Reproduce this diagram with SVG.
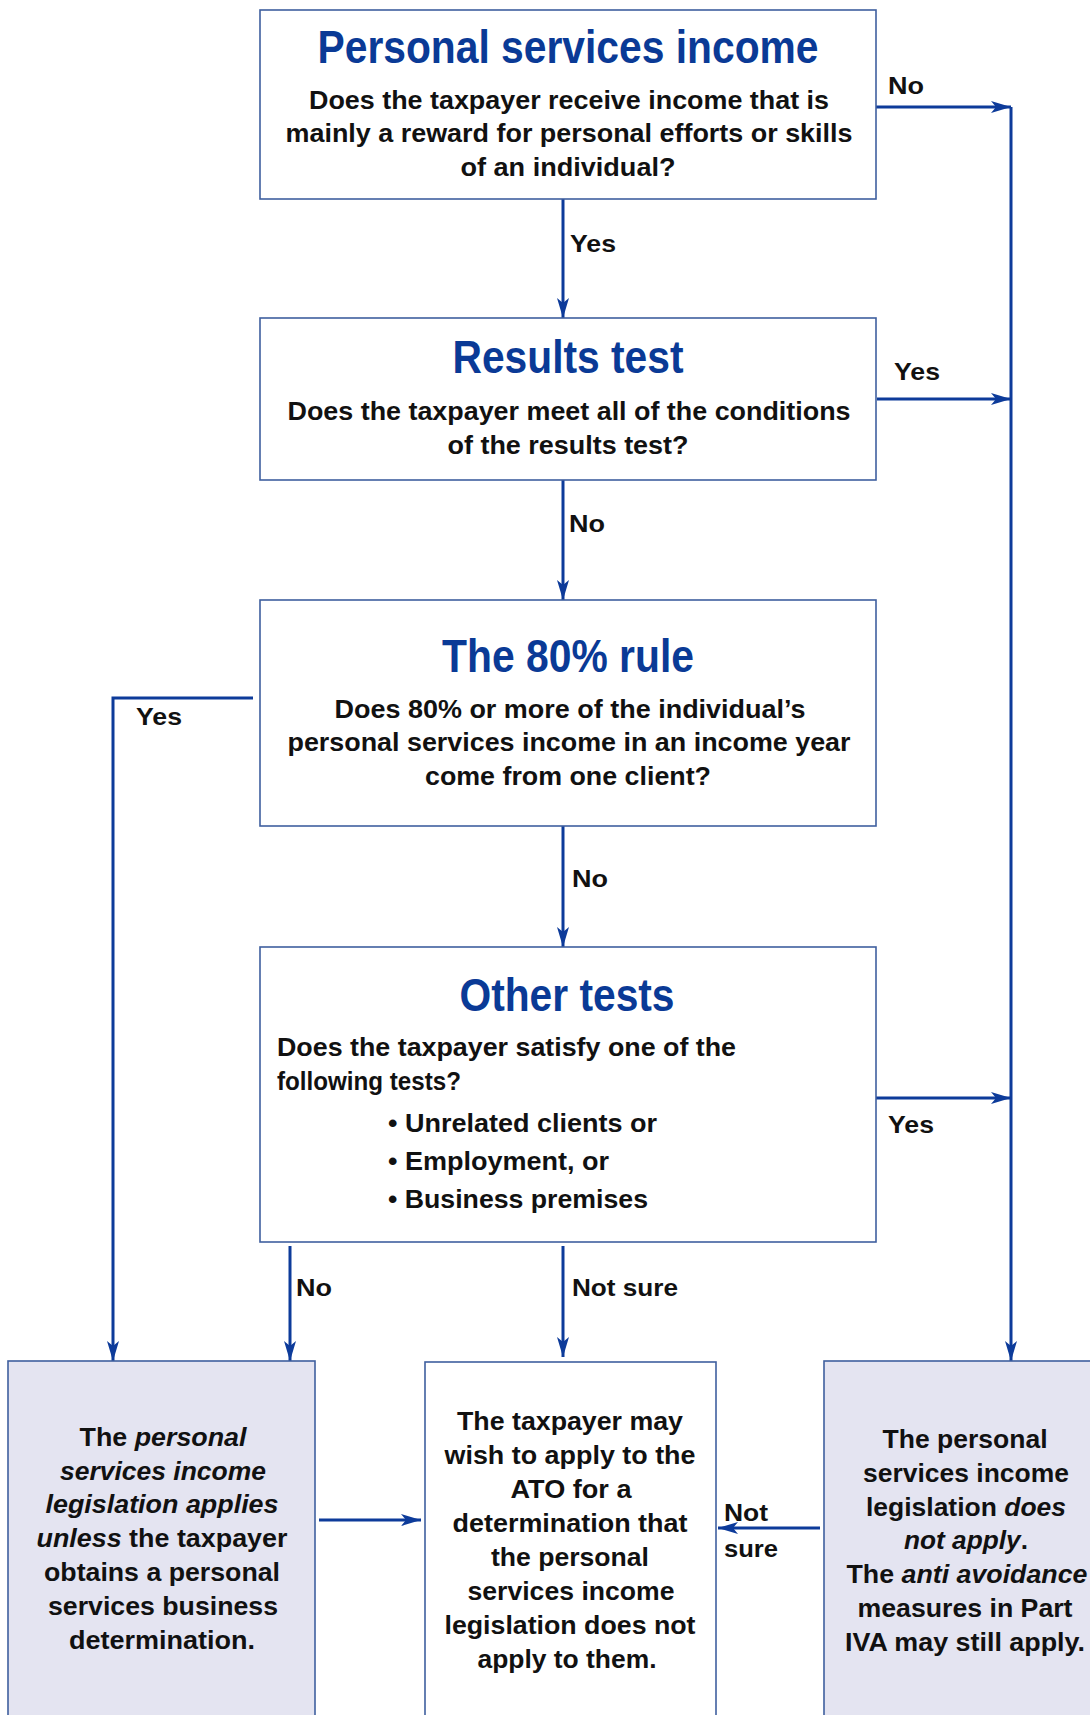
<svg xmlns="http://www.w3.org/2000/svg" width="1090" height="1715" viewBox="0 0 1090 1715">
<defs>
<marker id="ah" markerUnits="userSpaceOnUse" markerWidth="22" markerHeight="14" refX="20" refY="6" orient="auto">
<path d="M0,0 L20,6 L0,12 L5,6 z" fill="#0d3b9a"/>
</marker>
<style>
.box{fill:#ffffff;stroke:#3f5f9f;stroke-width:1.6}
.shade{fill:#e4e4f1;stroke:#3f5f9f;stroke-width:1.6}
.title{font-family:"Liberation Sans",Arial,sans-serif;font-weight:bold;font-size:46px;fill:#0a3a96;text-anchor:middle}
.t{font-family:"Liberation Sans",Arial,sans-serif;font-weight:bold;font-size:25px;fill:#111111;text-anchor:middle}
.tl{font-family:"Liberation Sans",Arial,sans-serif;font-weight:bold;font-size:25px;fill:#111111}
.lbl{font-family:"Liberation Sans",Arial,sans-serif;font-weight:bold;font-size:24px;fill:#111111}
.i{font-style:italic}
.c{fill:none;stroke:#0d3b9a;stroke-width:3}
</style>
</defs>
<rect width="1090" height="1715" fill="#ffffff"/>

<g id="connectors">
<path class="c" d="M563,199 L563,318" marker-end="url(#ah)"/>
<path class="c" d="M876,107 L1011,107" marker-end="url(#ah)"/>
<path class="c" d="M1011,107 L1011,1361" marker-end="url(#ah)"/>
<path class="c" d="M877,399 L1011,399" marker-end="url(#ah)"/>
<path class="c" d="M563,480 L563,600" marker-end="url(#ah)"/>
<path class="c" d="M253,698 L113,698 L113,1361" marker-end="url(#ah)"/>
<path class="c" d="M563,826 L563,947" marker-end="url(#ah)"/>
<path class="c" d="M876,1098 L1011,1098" marker-end="url(#ah)"/>
<path class="c" d="M290,1246 L290,1361" marker-end="url(#ah)"/>
<path class="c" d="M563,1246 L563,1357" marker-end="url(#ah)"/>
<path class="c" d="M319,1520 L421,1520" marker-end="url(#ah)"/>
<path class="c" d="M820,1528 L718,1528" marker-end="url(#ah)"/>
<text class="lbl" x="888" y="94" textLength="36" lengthAdjust="spacingAndGlyphs">No</text>
<text class="lbl" x="570" y="252" textLength="46" lengthAdjust="spacingAndGlyphs">Yes</text>
<text class="lbl" x="894" y="380" textLength="46" lengthAdjust="spacingAndGlyphs">Yes</text>
<text class="lbl" x="569" y="532" textLength="36" lengthAdjust="spacingAndGlyphs">No</text>
<text class="lbl" x="136" y="725" textLength="46" lengthAdjust="spacingAndGlyphs">Yes</text>
<text class="lbl" x="572" y="887" textLength="36" lengthAdjust="spacingAndGlyphs">No</text>
<text class="lbl" x="888" y="1133" textLength="46" lengthAdjust="spacingAndGlyphs">Yes</text>
<text class="lbl" x="296" y="1296" textLength="36" lengthAdjust="spacingAndGlyphs">No</text>
<text class="lbl" x="572" y="1296" textLength="106" lengthAdjust="spacingAndGlyphs">Not sure</text>
<text class="lbl" x="724" y="1521" textLength="44" lengthAdjust="spacingAndGlyphs">Not</text>
<text class="lbl" x="724" y="1557" textLength="54" lengthAdjust="spacingAndGlyphs">sure</text>
</g>

<g id="psi">
<rect class="box" x="260" y="10" width="616" height="189"/>
<text class="title" x="568" y="63" textLength="501" lengthAdjust="spacingAndGlyphs">Personal services income</text>
<text class="t" x="569" y="109" textLength="520" lengthAdjust="spacingAndGlyphs">Does the taxpayer receive income that is</text>
<text class="t" x="569" y="142" textLength="567" lengthAdjust="spacingAndGlyphs">mainly a reward for personal efforts or skills</text>
<text class="t" x="568" y="176" textLength="215" lengthAdjust="spacingAndGlyphs">of an individual?</text>
</g>

<g id="results">
<rect class="box" x="260" y="318" width="616" height="162"/>
<text class="title" x="568" y="373" textLength="231" lengthAdjust="spacingAndGlyphs">Results test</text>
<text class="t" x="569" y="420" textLength="563" lengthAdjust="spacingAndGlyphs">Does the taxpayer meet all of the conditions</text>
<text class="t" x="568" y="454" textLength="241" lengthAdjust="spacingAndGlyphs">of the results test?</text>
</g>

<g id="rule80">
<rect class="box" x="260" y="600" width="616" height="226"/>
<text class="title" x="568" y="672" textLength="252" lengthAdjust="spacingAndGlyphs">The 80% rule</text>
<text class="t" x="570" y="718" textLength="471" lengthAdjust="spacingAndGlyphs">Does 80% or more of the individual’s</text>
<text class="t" x="569" y="751" textLength="563" lengthAdjust="spacingAndGlyphs">personal services income in an income year</text>
<text class="t" x="568" y="785" textLength="286" lengthAdjust="spacingAndGlyphs">come from one client?</text>
</g>

<g id="other">
<rect class="box" x="260" y="947" width="616" height="295"/>
<text class="title" x="567" y="1011" textLength="215" lengthAdjust="spacingAndGlyphs">Other tests</text>
<text class="tl" x="277" y="1056" textLength="459" lengthAdjust="spacingAndGlyphs">Does the taxpayer satisfy one of the</text>
<text class="tl" x="277" y="1090" textLength="184" lengthAdjust="spacingAndGlyphs">following tests?</text>
<text class="tl" x="388" y="1132" textLength="269" lengthAdjust="spacingAndGlyphs">• Unrelated clients or</text>
<text class="tl" x="388" y="1170" textLength="221" lengthAdjust="spacingAndGlyphs">• Employment, or</text>
<text class="tl" x="388" y="1208" textLength="260" lengthAdjust="spacingAndGlyphs">• Business premises</text>
</g>

<g id="applies">
<rect class="shade" x="8" y="1361" width="307" height="360"/>
<text class="t" x="163" y="1446" textLength="167" lengthAdjust="spacingAndGlyphs">The <tspan class="i">personal</tspan></text>
<text class="t i" x="163" y="1480" textLength="206" lengthAdjust="spacingAndGlyphs">services income</text>
<text class="t i" x="162" y="1513" textLength="233" lengthAdjust="spacingAndGlyphs">legislation applies</text>
<text class="t" x="162" y="1547" textLength="251" lengthAdjust="spacingAndGlyphs"><tspan class="i">unless</tspan> the taxpayer</text>
<text class="t" x="162" y="1581" textLength="236" lengthAdjust="spacingAndGlyphs">obtains a personal</text>
<text class="t" x="163" y="1615" textLength="230" lengthAdjust="spacingAndGlyphs">services business</text>
<text class="t" x="162" y="1649" textLength="186" lengthAdjust="spacingAndGlyphs">determination.</text>
</g>

<g id="apply-ato">
<rect class="box" x="425" y="1362" width="291" height="360"/>
<text class="t" x="570" y="1430" textLength="226" lengthAdjust="spacingAndGlyphs">The taxpayer may</text>
<text class="t" x="570" y="1464" textLength="251" lengthAdjust="spacingAndGlyphs">wish to apply to the</text>
<text class="t" x="571" y="1498" textLength="121" lengthAdjust="spacingAndGlyphs">ATO for a</text>
<text class="t" x="570" y="1532" textLength="235" lengthAdjust="spacingAndGlyphs">determination that</text>
<text class="t" x="570" y="1566" textLength="158" lengthAdjust="spacingAndGlyphs">the personal</text>
<text class="t" x="571" y="1600" textLength="207" lengthAdjust="spacingAndGlyphs">services income</text>
<text class="t" x="570" y="1634" textLength="251" lengthAdjust="spacingAndGlyphs">legislation does not</text>
<text class="t" x="567" y="1668" textLength="179" lengthAdjust="spacingAndGlyphs">apply to them.</text>
</g>

<g id="not-apply">
<rect class="shade" x="824" y="1361" width="280" height="360"/>
<text class="t" x="965" y="1448" textLength="165" lengthAdjust="spacingAndGlyphs">The personal</text>
<text class="t" x="966" y="1482" textLength="206" lengthAdjust="spacingAndGlyphs">services income</text>
<text class="t" x="966" y="1516" textLength="200" lengthAdjust="spacingAndGlyphs">legislation <tspan class="i">does</tspan></text>
<text class="t" x="966" y="1549" textLength="124" lengthAdjust="spacingAndGlyphs"><tspan class="i">not apply</tspan>.</text>
<text class="t" x="967" y="1583" textLength="241" lengthAdjust="spacingAndGlyphs">The <tspan class="i">anti avoidance</tspan></text>
<text class="t" x="965" y="1617" textLength="215" lengthAdjust="spacingAndGlyphs">measures in Part</text>
<text class="t" x="965" y="1651" textLength="240" lengthAdjust="spacingAndGlyphs">IVA may still apply.</text>
</g>
</svg>
